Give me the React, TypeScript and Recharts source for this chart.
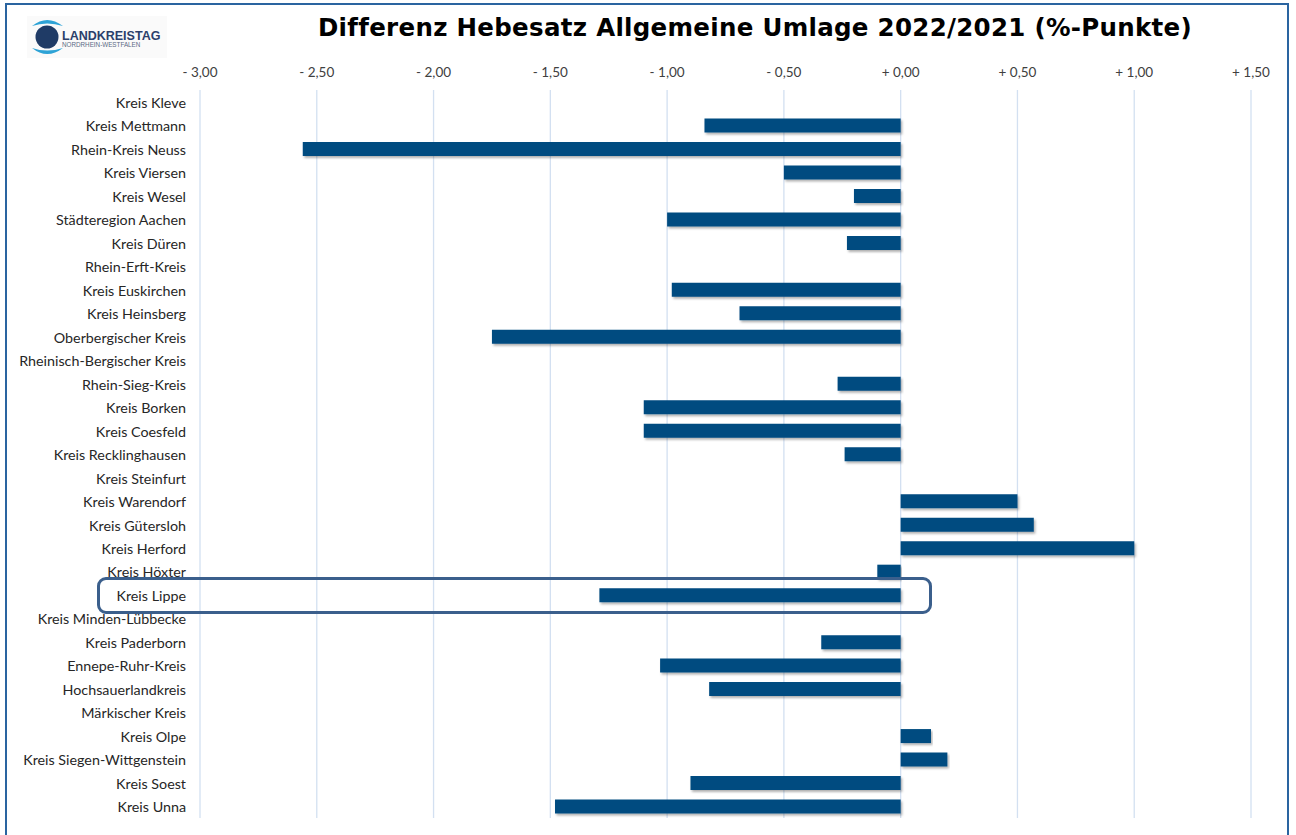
import React from 'react';
import { BarChart, Bar, XAxis, YAxis, CartesianGrid } from 'recharts';

const categories: string[] = [
  'Kreis Kleve', 'Kreis Mettmann', 'Rhein-Kreis Neuss', 'Kreis Viersen', 'Kreis Wesel',
  'Städteregion Aachen', 'Kreis Düren', 'Rhein-Erft-Kreis', 'Kreis Euskirchen', 'Kreis Heinsberg',
  'Oberbergischer Kreis', 'Rheinisch-Bergischer Kreis', 'Rhein-Sieg-Kreis', 'Kreis Borken', 'Kreis Coesfeld',
  'Kreis Recklinghausen', 'Kreis Steinfurt', 'Kreis Warendorf', 'Kreis Gütersloh', 'Kreis Herford',
  'Kreis Höxter', 'Kreis Lippe', 'Kreis Minden-Lübbecke', 'Kreis Paderborn', 'Ennepe-Ruhr-Kreis',
  'Hochsauerlandkreis', 'Märkischer Kreis', 'Kreis Olpe', 'Kreis Siegen-Wittgenstein', 'Kreis Soest',
  'Kreis Unna',
];

const diffValues: (number | null)[] = [
  null, -0.84, -2.56, -0.50, -0.20,
  -1.00, -0.23, null, -0.98, -0.69,
  -1.75, null, -0.27, -1.10, -1.10,
  -0.24, null, 0.50, 0.57, 1.00,
  -0.10, -1.29, null, -0.34, -1.03,
  -0.82, null, 0.13, 0.20, -0.90,
  -1.48,
];

const xTicks: number[] = [-3, -2.5, -2, -1.5, -1, -0.5, 0, 0.5, 1, 1.5];

const data = categories.map((name, i) => ({ name, value: diffValues[i] }));

const fmt = (v: number) =>
  (v < 0 ? '- ' : '+ ') + Math.abs(v).toFixed(2).replace('.', ',');

const FONT = 'Lato, "Open Sans", sans-serif';

function Logo() {
  return (
    <svg width={140} height={42} style={{ position: 'absolute', left: 27, top: 16 }}>
      <rect x={0} y={0} width={140} height={42} fill="#fafafa" />
      <path d="M5 10 Q20 -2 36 10 Q20 5 5 10 Z" fill="#2ea3d6" />
      <path d="M5 32 Q20 44 36 32 Q20 37 5 32 Z" fill="#2ea3d6" />
      <circle cx={20} cy={21} r={11.5} fill="#1f3b66" />
      <text x={35} y={24} fontFamily="Arial, 'Liberation Sans', sans-serif" fontWeight="bold" fontSize={12.5} fill="#2b3f6b">LANDKREISTAG</text>
      <text x={35} y={31} fontFamily="Arial, 'Liberation Sans', sans-serif" fontSize={6.3} fill="#5a6a85">NORDRHEIN-WESTFALEN</text>
    </svg>
  );
}

export default function App() {
  return (
    <div style={{ position: 'absolute', left: 0, top: 0, width: 1296, height: 835, background: '#ffffff', overflow: 'hidden' }}>
      <div style={{ position: 'absolute', left: 5, top: 3, width: 1284, height: 840, border: '2px solid #2a64a0', boxSizing: 'border-box' }} />
      <Logo />
      <div style={{ position: 'absolute', left: 0, width: 1510, top: 13, textAlign: 'center', fontFamily: '"DejaVu Sans", Verdana, sans-serif', fontWeight: 'bold', fontSize: 24.5, color: '#000', letterSpacing: 0.3 }}>
        Differenz Hebesatz Allgemeine Umlage 2022/2021 (%-Punkte)
      </div>
      <div style={{ position: 'absolute', left: 0, top: 0 }}>
        <BarChart
          width={1296}
          height={835}
          data={data}
          layout="vertical"
          margin={{ top: 60, right: 45, bottom: 17, left: 0 }}
          barSize={14}
        >
          <defs>
            <filter id="barShadow" x="-5%" y="-30%" width="110%" height="180%">
              <feDropShadow dx={1.5} dy={2} stdDeviation={1.2} floodColor="#000" floodOpacity={0.3} />
            </filter>
          </defs>
          <CartesianGrid horizontal={false} vertical={true} stroke="#d3e0f1" strokeWidth={1.3} />
          <XAxis
            type="number"
            orientation="top"
            domain={[-3, 1.5]}
            ticks={xTicks}
            tickFormatter={fmt}
            axisLine={false}
            tickLine={false}
            tickSize={0}
            tickMargin={13}
            height={30}
            tick={{ fill: '#404040', fontSize: 13.5, fontFamily: FONT }}
            interval={0}
          />
          <YAxis
            type="category"
            dataKey="name"
            width={200}
            axisLine={false}
            tickLine={false}
            tickSize={0}
            tickMargin={14}
            interval={0}
            tick={{ fill: '#262626', fontSize: 14.3, fontFamily: FONT, dy: 1 }}
          />
          <Bar dataKey="value" fill="#014b80" isAnimationActive={false} filter="url(#barShadow)" />
        </BarChart>
      </div>
      <div style={{ position: 'absolute', left: 97, top: 577, width: 835, height: 37, border: '3px solid #3b5f8c', borderRadius: 9, boxSizing: 'border-box' }} />
    </div>
  );
}
